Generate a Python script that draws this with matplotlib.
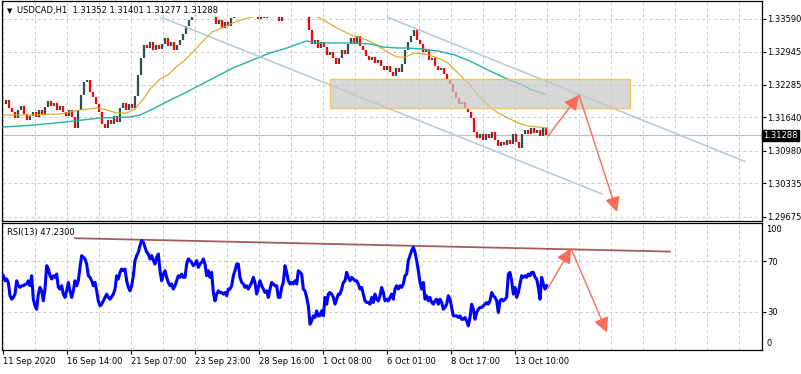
import matplotlib
matplotlib.use("Agg")
import matplotlib.pyplot as plt
from matplotlib.patches import Rectangle
import numpy as np

# USDCAD H1, one close every 3 bars from 11 Sep 2020 22:00
bar_step = 3
closes = [
    1.31907, 1.31986, 1.31828, 1.31748, 1.31630, 1.31788, 1.31867, 1.31709, 1.31590, 1.31669,
    1.31748, 1.31649, 1.31788, 1.31709, 1.31847, 1.31966, 1.31867, 1.31927, 1.31788, 1.31867,
    1.31748, 1.31669, 1.31788, 1.31649, 1.31432, 1.31788, 1.32085, 1.32342, 1.32382, 1.32144,
    1.32046, 1.31907, 1.31748, 1.31511, 1.31432, 1.31590, 1.31511, 1.31669, 1.31550, 1.31828,
    1.31927, 1.31788, 1.31907, 1.31828, 1.32065, 1.32481, 1.32818, 1.33075, 1.33016, 1.33134,
    1.32976, 1.33075, 1.32996, 1.33095, 1.33214, 1.33055, 1.33134, 1.32976, 1.33075, 1.33174,
    1.33293, 1.33451, 1.33570, 1.33689, 1.33867, 1.33966, 1.34006, 1.33926, 1.33847, 1.33768,
    1.33689, 1.33491, 1.33570, 1.33412, 1.33530, 1.33451, 1.33610, 1.33768, 1.33887, 1.33966,
    1.34006, 1.33926, 1.33867, 1.33808, 1.33689, 1.33590, 1.33709, 1.33610, 1.33768, 1.33847,
    1.33728, 1.33649, 1.33550, 1.33669, 1.33808, 1.33887, 1.33926, 1.33887, 1.33808, 1.33768,
    1.33728, 1.33649, 1.33372, 1.33095, 1.33174, 1.33016, 1.33134, 1.33035, 1.32877, 1.32936,
    1.32818, 1.32699, 1.32818, 1.32976, 1.32897, 1.33095, 1.33214, 1.33095, 1.33253, 1.33055,
    1.32976, 1.32857, 1.32778, 1.32837, 1.32719, 1.32778, 1.32659, 1.32580, 1.32659, 1.32540,
    1.32461, 1.32620, 1.32540, 1.32699, 1.32976, 1.33134, 1.33253, 1.33372, 1.33174, 1.33095,
    1.32936, 1.32976, 1.32778, 1.32818, 1.32659, 1.32580, 1.32620, 1.32501, 1.32382, 1.32303,
    1.32144, 1.32026, 1.31907, 1.31946, 1.31828, 1.31748, 1.31630, 1.31352, 1.31234, 1.31313,
    1.31194, 1.31313, 1.31234, 1.31352, 1.31194, 1.31075, 1.31154, 1.31095, 1.31194, 1.31115,
    1.31313, 1.31154, 1.31036, 1.31313, 1.31392, 1.31313, 1.31432, 1.31333, 1.31392, 1.31273,
    1.31432, 1.31288,
]

# moving averages (bar index, price)
ma_fast_x = [0, 27, 57, 77, 94, 104, 114, 124, 132, 137, 142, 147, 157, 165, 172, 182, 190, 199,
             209, 219, 232, 245, 259, 277, 297, 315, 334, 344, 354, 364, 374, 384, 394, 402, 412,
             422, 435, 445, 455, 465, 475, 485, 495, 505, 515, 525, 535, 544]
ma_fast = [1.31689, 1.31689, 1.31709, 1.31788, 1.31828, 1.31788, 1.31729, 1.31729, 1.31808, 1.31927,
           1.32046, 1.32204, 1.32402, 1.32481, 1.32620, 1.32778, 1.32936, 1.33134, 1.33333, 1.33412,
           1.33530, 1.33610, 1.33669, 1.33748, 1.33748, 1.33629, 1.33412, 1.33313, 1.33233, 1.33174,
           1.33075, 1.32936, 1.32837, 1.32837, 1.32917, 1.32897, 1.32818, 1.32719, 1.32521, 1.32323,
           1.32085, 1.31887, 1.31729, 1.31630, 1.31531, 1.31471, 1.31451, 1.31432]
ma_slow_x = [0, 32, 62, 97, 127, 137, 152, 167, 182, 197, 230, 257, 267, 284, 300, 304, 317, 334,
             350, 367, 380, 394, 404, 419, 435, 452, 469, 485, 502, 519, 529, 542]
ma_slow = [1.31451, 1.31491, 1.31550, 1.31630, 1.31649, 1.31689, 1.31828, 1.31986, 1.32125, 1.32283,
           1.32620, 1.32837, 1.32917, 1.33016, 1.33134, 1.33154, 1.33115, 1.33115, 1.33115, 1.33095,
           1.33035, 1.33016, 1.33016, 1.32996, 1.32956, 1.32877, 1.32738, 1.32580, 1.32422, 1.32283,
           1.32184, 1.32105]

# RSI(13), one reading every 5/3 bar
rsi_start = 1 / 3
rsi_step = 5 / 3
rsi = [
    58.5, 54.5, 56, 53, 42.7, 40, 41.4, 44, 54.5, 50.6,
    49.3, 50.6, 50.6, 51.5, 52, 54.5, 50.6, 58.5, 40, 34.8,
    32.1, 44, 49.3, 46.6, 38.7, 48, 66.4, 63.8, 58.5, 55.9,
    58.5, 57.2, 59.8, 49.3, 48, 50.6, 44, 41.4, 46.6, 53.2,
    46.6, 41.4, 46.6, 54.5, 50.6, 54.5, 65.1, 74.3, 73, 71.7,
    67.7, 58.5, 57.2, 54.5, 50.6, 53.2, 46.6, 38.7, 34.8, 36.1,
    38.7, 41.4, 44, 41.4, 40, 42, 44, 48, 58.5, 55.9,
    61.1, 63.8, 62.4, 63.8, 54.5, 49.3, 46.6, 50.6, 58.5, 70.4,
    74.3, 77, 82.2, 86.2, 84.8, 80.9, 77, 75.6, 71.7, 74.3,
    70.4, 67.7, 73, 75.6, 62.4, 54.5, 59.8, 62.4, 57.2, 53.2,
    50.6, 52, 48, 50.6, 54.5, 58.5, 57.2, 59.8, 57.2, 57.2,
    67.7, 71.7, 70.4, 69, 66.4, 67.7, 70.4, 65.1, 67.7, 69,
    71.7, 67.7, 58.5, 62.4, 57.2, 61.1, 45.3, 38.7, 44, 46.6,
    45.3, 45.3, 44, 45.3, 42.7, 48, 48, 50.6, 58.5, 62.4,
    67.7, 67.7, 57.2, 53.2, 52, 49.3, 50.6, 48, 50.6, 53.2,
    57.2, 53.2, 44, 49.3, 54.5, 50.6, 48, 45.3, 46.6, 41.4,
    48, 53.2, 52, 50.6, 50.6, 41.4, 41.4, 49.3, 53.2, 66.4,
    61.1, 54.5, 52, 53.2, 52, 54.5, 52, 62.4, 61.1, 59.8,
    48, 46.6, 41.4, 34.8, 20.3, 22.9, 26.9, 25.6, 30.8, 26.9,
    26.9, 30.8, 26.9, 41.4, 36.1, 44, 45.3, 44, 41.4, 36.1,
    40, 44, 44, 48, 53.2, 54.5, 61.1, 57.2, 54.5, 57.2,
    55.9, 54.5, 54.5, 52, 48, 49.3, 44, 38.7, 37.4, 37.4,
    36.1, 41.4, 37.4, 44, 40, 38.7, 42.7, 49.3, 45.3, 38.7,
    40, 38.7, 41.4, 44, 40, 48, 50.6, 48, 50.6, 49.3,
    52, 58.5, 59.8, 70.4, 74.3, 78.3, 80.9, 77, 70.4, 62.4,
    53.2, 48, 53.2, 40, 42.7, 38.7, 41.4, 37.4, 36.1, 38.7,
    40, 36.1, 40, 37.4, 32.1, 33.5, 36.1, 42.7, 40, 33.5,
    26.9, 26.9, 26.9, 25.6, 26.9, 24.2, 24.2, 25.6, 22.9, 19,
    25.6, 36.1, 32.1, 24.2, 29.5, 32.1, 33.5, 33.5, 34.8, 36.1,
    37.4, 36.1, 38.7, 45.3, 42.7, 41.4, 38.7, 29.5, 38.7, 40,
    38.7, 40, 41.4, 59.8, 61.1, 54.5, 44, 49.3, 41.4, 45.3,
    52, 58.5, 57.2, 58.5, 57.2, 59.8, 58.5, 61.1, 61.1, 57.2,
    55.9, 49.3, 40, 57.2, 52, 48, 50.6,
]

price_ticks = [1.33590, 1.32945, 1.32285, 1.31640, 1.30980, 1.30335, 1.29675]
time_labels = ["11 Sep 2020", "16 Sep 14:00", "21 Sep 07:00", "23 Sep 23:00", "28 Sep 16:00",
               "1 Oct 08:00", "6 Oct 01:00", "8 Oct 17:00", "13 Oct 10:00"]
label_every = 64
grid_every = 32

header = "USDCAD,H1  1.31352 1.31401 1.31277 1.31288"
last_price = 1.31288
rsi_label = "RSI(13) 47.2300"

# drawn objects (bar index, price / rsi)
zone = [327, 627, 1.31822, 1.32406]
channel_lower = [(150, 1.33690), (599, 1.30125)]
channel_upper = [(380, 1.33661), (742, 1.30769)]
price_path = [(545, 1.31273), (576, 1.32085), (614, 1.29769)]
rsi_trend = [(72, 88.0), (667, 77.5)]
rsi_path = [(545, 48.5), (568, 80.1), (604, 13.7)]

W, H = 801, 374
plt.rcParams['font.family'] = ['DejaVu Sans']
plt.rcParams['font.size'] = 6

fig = plt.figure(figsize=(W / 100, H / 100), dpi=100)
ax = fig.add_axes([2 / W, 1 - 221 / H, 760 / W, 220 / H])
ax2 = fig.add_axes([2 / W, 1 - 350 / H, 760 / W, 127 / H])

xmin, xmax = -1, 759
ymin, ymax = 1.295904, 1.339464
clip_top = 1.336296

for a in (ax, ax2):
    a.set_xlim(xmin, xmax)
    for s in a.spines.values():
        s.set_color('black')
        s.set_linewidth(0.9)
    a.set_facecolor('white')

ax.set_ylim(ymin, ymax)
ax2.set_ylim(0, 100)

grid_kw = dict(color='#c8c8c8', lw=0.7, ls=(0, (3, 3)), zorder=0)
for gx in np.arange(0, xmax, grid_every):
    ax.axvline(gx, **grid_kw)
    ax2.axvline(gx, **grid_kw)
for p in price_ticks:
    ax.axhline(p, **grid_kw)
for v in (30, 70):
    ax2.axhline(v, **grid_kw)

# candles
c = np.array(closes)
o = np.r_[c[0], c[:-1]]
bx = np.arange(len(c)) * bar_step
up = c >= o
clip = Rectangle((xmin, ymin), xmax - xmin, clip_top - ymin, transform=ax.transData)
lines_up = ax.vlines(bx[up], o[up], c[up], color='#2f4f4f', lw=1.6, zorder=2)
lines_dn = ax.vlines(bx[~up], c[~up], o[~up], color='#ff0000', lw=1.6, zorder=2)
l1, = ax.plot(ma_fast_x, ma_fast, color='#daa520', lw=0.8, zorder=3)
l2, = ax.plot(ma_slow_x, ma_slow, color='#20b2aa', lw=1.0, zorder=3)
for art in (lines_up, lines_dn, l1, l2):
    art.set_clip_path(clip)

ax.axhline(last_price, color='#c0c0c0', lw=0.8, zorder=1)

for ch in (channel_lower, channel_upper):
    cl, = ax.plot([ch[0][0], ch[1][0]], [ch[0][1], ch[1][1]], color='#b4c8d7', lw=1.1, zorder=3)
    cl.set_clip_path(clip)

ax.add_patch(Rectangle((zone[0], zone[2]), zone[1] - zone[0], zone[3] - zone[2],
                       facecolor=(0.78, 0.78, 0.78, 0.7), edgecolor='#f2c462', lw=1.0, zorder=4))

arrow_kw = dict(arrowstyle='-|>,head_length=0.9,head_width=0.45', color='#fa6a5a', lw=1.0,
                mutation_scale=10, shrinkA=0, shrinkB=0)
for a, path in ((ax, price_path), (ax2, rsi_path)):
    for i in range(len(path) - 1):
        a.annotate('', xy=path[i + 1], xytext=path[i], arrowprops=arrow_kw, zorder=5)

# rsi
rx = rsi_start + np.arange(len(rsi)) * rsi_step
ax2.plot(rx, rsi, color='#0000ff', lw=2.2, zorder=3)
ax2.plot([rsi_trend[0][0], rsi_trend[1][0]], [rsi_trend[0][1], rsi_trend[1][1]],
         color='#963f3f', lw=1.3, alpha=0.85, zorder=2)

# axes ticks
ax.yaxis.tick_right()
ax.set_yticks(price_ticks)
ax.set_yticklabels(["%.5f" % p for p in price_ticks])
ax.tick_params(axis='y', length=3, width=0.8, pad=1, labelsize=6)
ax.set_xticks([])

ax.annotate("%.5f" % last_price, xy=(1, last_price), xycoords=('axes fraction', 'data'),
            xytext=(1, 0), textcoords='offset points', va='center', ha='left', fontsize=6,
            color='white', bbox=dict(boxstyle='square,pad=0.15', fc='black', ec='black'))

ax2.yaxis.tick_right()
ax2.set_yticks([30, 70])
ax2.set_yticklabels(['30', '70'])
ax2.tick_params(axis='y', length=3, width=0.8, pad=1, labelsize=6)
for v, dy in ((100, -5), (0, 5)):
    ax2.annotate(str(v), xy=(1, v), xycoords=('axes fraction', 'data'), xytext=(3, dy),
                 textcoords='offset points', va='center', ha='left', fontsize=6)

ax2.set_xticks(np.arange(len(time_labels)) * label_every)
ax2.set_xticklabels(time_labels, ha='left')
ax2.tick_params(axis='x', length=3, width=0.8, pad=2, labelsize=6)

fig.text(7 / W, 1 - 11 / H, u'\u25bc', fontsize=5, va='center', ha='left')
fig.text(17 / W, 1 - 11 / H, header, fontsize=6, va='center', ha='left')
fig.text(7 / W, 1 - 232 / H, rsi_label, fontsize=6, va='center', ha='left')

fig.savefig('out.png', dpi=100)
